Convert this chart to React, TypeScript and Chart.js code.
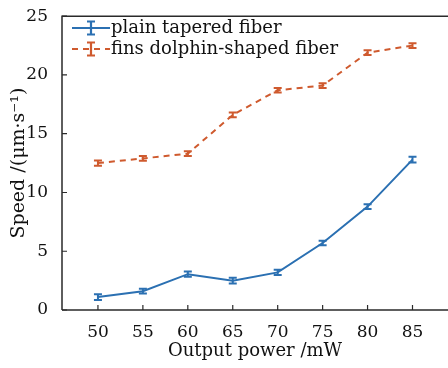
import React, { useEffect, useRef } from "react";
import { Chart, registerables } from "chart.js";

Chart.register(...registerables);

const powers = [50, 55, 60, 65, 70, 75, 80, 85];
const plainSpeed = [1.1, 1.6, 3.05, 2.5, 3.2, 5.7, 8.8, 12.8];
const plainErr = [0.25, 0.2, 0.22, 0.25, 0.22, 0.2, 0.2, 0.25];
const finsSpeed = [12.5, 12.9, 13.3, 16.6, 18.7, 19.1, 21.9, 22.5];
const finsErr = [0.22, 0.2, 0.2, 0.2, 0.2, 0.2, 0.2, 0.2];
const xTicks = [50, 55, 60, 65, 70, 75, 80, 85];
const yTicks = [0, 5, 10, 15, 20, 25];
const seriesLabels = ["plain tapered fiber", "fins dolphin-shaped fiber"];

const BLUE = "#2b70b2";
const ORANGE = "#cf5a2e";
const AXIS = "#2a2a2a";
const TEXT = "#111111";
const FONT = "'DejaVu Serif', serif";

export default function App() {
  const ref = useRef<HTMLCanvasElement | null>(null);

  useEffect(() => {
    document.body.style.margin = "0";
    const canvas = ref.current;
    if (!canvas) return;
    const errs = [plainErr, finsErr];

    const errorBars = {
      id: "errorBars",
      afterDatasetsDraw(chart: any) {
        const { ctx } = chart;
        const xs = chart.scales.x;
        const ys = chart.scales.y;
        chart.data.datasets.forEach((ds: any, di: number) => {
          ctx.save();
          ctx.strokeStyle = ds.borderColor;
          ctx.lineWidth = 2;
          ctx.setLineDash([]);
          ds.data.forEach((p: any, i: number) => {
            const e = errs[di][i];
            const x = xs.getPixelForValue(p.x);
            const yt = ys.getPixelForValue(p.y + e);
            const yb = ys.getPixelForValue(p.y - e);
            ctx.beginPath();
            ctx.moveTo(x, yt);
            ctx.lineTo(x, yb);
            ctx.moveTo(x - 4, yt);
            ctx.lineTo(x + 4, yt);
            ctx.moveTo(x - 4, yb);
            ctx.lineTo(x + 4, yb);
            ctx.stroke();
          });
          ctx.restore();
        });
      },
    };

    const frame = {
      id: "frame",
      afterDraw(chart: any) {
        const { ctx, chartArea } = chart;
        const { left, right, top, bottom } = chartArea;
        const xs = chart.scales.x;
        const ys = chart.scales.y;
        ctx.save();
        ctx.strokeStyle = AXIS;
        ctx.lineWidth = 1.5;
        ctx.setLineDash([]);
        ctx.beginPath();
        ctx.moveTo(left, bottom);
        ctx.lineTo(left, top);
        ctx.lineTo(right, top);
        ctx.moveTo(left, bottom);
        ctx.lineTo(right, bottom);
        ctx.stroke();
        ctx.lineWidth = 1.2;
        ctx.beginPath();
        xTicks.forEach((v) => {
          const x = xs.getPixelForValue(v);
          ctx.moveTo(x, bottom);
          ctx.lineTo(x, bottom - 5);
        });
        yTicks.forEach((v) => {
          const y = ys.getPixelForValue(v);
          ctx.moveTo(left, y);
          ctx.lineTo(left + 5, y);
        });
        ctx.stroke();

        // legend
        const rows = [
          { color: BLUE, dash: [] as number[], y: 28 },
          { color: ORANGE, dash: [6, 5], y: 49 },
        ];
        rows.forEach((r, i) => {
          ctx.strokeStyle = r.color;
          ctx.lineWidth = 2;
          ctx.setLineDash(r.dash);
          ctx.beginPath();
          ctx.moveTo(72, r.y);
          ctx.lineTo(110, r.y);
          ctx.stroke();
          ctx.setLineDash([]);
          ctx.lineWidth = 2.2;
          ctx.beginPath();
          ctx.moveTo(91, r.y - 6.5);
          ctx.lineTo(91, r.y + 6.5);
          ctx.moveTo(87, r.y - 6.5);
          ctx.lineTo(95, r.y - 6.5);
          ctx.moveTo(87, r.y + 6.5);
          ctx.lineTo(95, r.y + 6.5);
          ctx.stroke();
          ctx.fillStyle = TEXT;
          ctx.font = "18px " + FONT;
          ctx.textAlign = "left";
          ctx.textBaseline = "middle";
          ctx.fillText(seriesLabels[i], 111, r.y);
        });
        ctx.restore();
      },
    };

    const chart = new Chart(canvas, {
      type: "line",
      data: {
        datasets: [
          {
            label: seriesLabels[0],
            data: powers.map((p, i) => ({ x: p, y: plainSpeed[i] })),
            borderColor: BLUE,
            backgroundColor: BLUE,
            borderWidth: 2,
            pointRadius: 0,
            tension: 0,
          },
          {
            label: seriesLabels[1],
            data: powers.map((p, i) => ({ x: p, y: finsSpeed[i] })),
            borderColor: ORANGE,
            backgroundColor: ORANGE,
            borderWidth: 2,
            borderDash: [6, 5],
            pointRadius: 0,
            tension: 0,
          },
        ],
      },
      options: {
        animation: false,
        responsive: false,
        layout: { padding: { top: 12, right: 0, left: 0, bottom: 0 } },
        plugins: {
          legend: { display: false },
          tooltip: { enabled: false },
        },
        scales: {
          x: {
            type: "linear",
            min: 46,
            max: 88.95,
            afterBuildTicks: (s: any) => {
              s.ticks = xTicks.map((v) => ({ value: v }));
            },
            afterFit: (s: any) => {
              s.height = 58;
            },
            grid: { display: false },
            border: { display: false },
            ticks: {
              color: TEXT,
              font: { family: FONT, size: 17 },
              padding: 4,
              maxRotation: 0,
            },
            title: {
              display: true,
              text: "Output power /mW",
              color: TEXT,
              font: { family: FONT, size: 18 },
              padding: { top: 0, bottom: 6 },
            },
          },
          y: {
            type: "linear",
            min: 0,
            max: 25,
            afterBuildTicks: (s: any) => {
              s.ticks = yTicks.map((v) => ({ value: v }));
            },
            afterFit: (s: any) => {
              s.width = 62;
            },
            grid: { display: false },
            border: { display: false },
            ticks: {
              color: TEXT,
              font: { family: FONT, size: 17 },
              padding: 6,
            },
            title: {
              display: true,
              text: "Speed /(μm·s⁻¹)",
              color: TEXT,
              font: { family: FONT, size: 19 },
              padding: { top: 8, bottom: 0 },
            },
          },
        },
      },
      plugins: [errorBars, frame],
    });
    return () => chart.destroy();
  }, []);

  return (
    <div style={{ width: 448, height: 368 }}>
      <canvas ref={ref} width={448} height={368} />
    </div>
  );
}
